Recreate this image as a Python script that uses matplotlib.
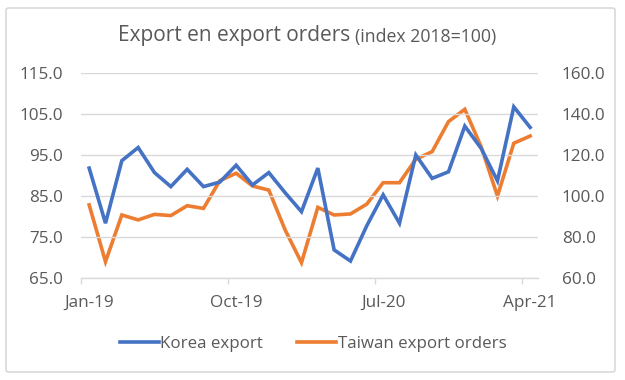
import matplotlib
matplotlib.use("Agg")
import matplotlib.pyplot as plt
from matplotlib.patches import FancyBboxPatch

months = ["Jan-19","Feb-19","Mar-19","Apr-19","May-19","Jun-19","Jul-19","Aug-19","Sep-19",
          "Oct-19","Nov-19","Dec-19","Jan-20","Feb-20","Mar-20","Apr-20","May-20","Jun-20",
          "Jul-20","Aug-20","Sep-20","Oct-20","Nov-20","Dec-20","Jan-21","Feb-21","Mar-21","Apr-21"]
korea_export = [91.8, 78.4, 93.6, 96.8, 90.7, 87.3, 91.5, 87.3, 88.4, 92.5, 87.7, 90.7, 85.8, 81.2,
                91.8, 71.9, 69.2, 77.8, 85.3, 78.4, 95.0, 89.3, 90.9, 102.0, 96.6, 88.7, 106.7, 101.7]
taiwan_orders = [95.7, 68.1, 90.8, 88.4, 91.1, 90.5, 95.3, 94.0, 107.5, 111.1, 104.9, 102.9, 83.5, 67.6,
                 94.5, 90.8, 91.3, 96.1, 106.5, 106.5, 117.9, 121.6, 136.2, 142.2, 124.0, 100.0, 125.7, 129.2]
label_months = ["Jan-19", "Oct-19", "Jul-20", "Apr-21"]
left_ticks = [65, 75, 85, 95, 105, 115]
right_ticks = [60, 80, 100, 120, 140, 160]

plt.rcParams['font.family'] = ['Open Sans', 'DejaVu Sans']
txt = '#595959'
grid = '#d9d9d9'

fig = plt.figure(figsize=(6.25, 3.8), dpi=100)
fig.patch.set_facecolor('white')
border = FancyBboxPatch((6/625, 8/380), 609/625, 364/380, boxstyle="round,pad=0,rounding_size=0.005",
                        transform=fig.transFigure, fill=False, edgecolor=grid, linewidth=1.2)
fig.patches.append(border)

ax = fig.add_axes([81/625, 1-278.3/380, (538.3-81)/625, (278.3-72.7)/380])
x = list(range(len(months)))
ax.plot(x, korea_export, color='#4472C4', lw=2.6, label='Korea export', solid_joinstyle='miter', zorder=3)
ax.set_ylim(65, 115)
ax.set_yticks(left_ticks)
ax.set_yticklabels([f"{v:.1f}" for v in left_ticks])
ax.set_xlim(-0.5, len(months)-0.5)
ax.grid(axis='y', color=grid, lw=1)
ax.set_axisbelow(True)
for s in ['top', 'right', 'left']:
    ax.spines[s].set_visible(False)
ax.spines['bottom'].set_color(grid)
ax.spines['bottom'].set_linewidth(1)

idx = [months.index(m) for m in label_months]
ax.set_xticks(idx)
ax.set_xticklabels(label_months)
ax.set_xticks([i-0.5 for i in idx], minor=True)
ax.tick_params(axis='x', which='major', length=0, pad=12, labelsize=12.3, labelcolor=txt)
ax.tick_params(axis='x', which='minor', length=4, color=grid, width=1)
ax.tick_params(axis='y', length=0, pad=13, labelsize=12.3, labelcolor=txt)

ax2 = ax.twinx()
ax2.plot(x, taiwan_orders, color='#ED7D31', lw=2.6, label='Taiwan export orders', solid_joinstyle='miter', zorder=2)
ax2.set_ylim(60, 160)
ax2.set_yticks(right_ticks)
ax2.set_yticklabels([f"{v:.1f}" for v in right_ticks])
ax2.tick_params(axis='y', length=0, pad=17, labelsize=12.3, labelcolor=txt)
for s in ['top', 'right', 'left', 'bottom']:
    ax2.spines[s].set_visible(False)
ax.set_zorder(ax2.get_zorder()+1)
ax.patch.set_visible(False)

fig.text(350/625, 1-36/380, 'Export en export orders', ha='right', va='center', fontsize=15, color=txt)
fig.text(355/625, 1-37/380, '(index 2018=100)', ha='left', va='center', fontsize=12.7, color=txt)

h1, l1 = ax.get_legend_handles_labels()
h2, l2 = ax2.get_legend_handles_labels()
fig.legend(h1+h2, l1+l2, loc='center', bbox_to_anchor=(313/625, 1-344/380), ncol=2, frameon=False,
           fontsize=12.2, labelcolor=txt, handlelength=2.3, handletextpad=0.1, columnspacing=2.0)

fig.savefig('out.png', dpi=100, facecolor='white')
